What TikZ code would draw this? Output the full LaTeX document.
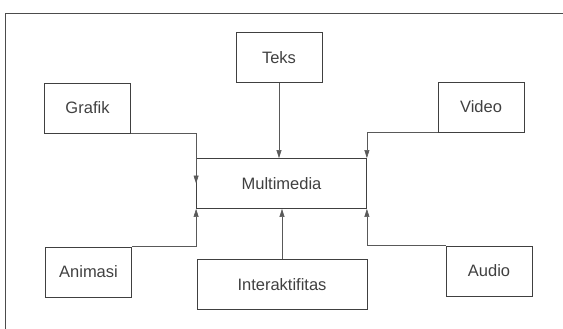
\documentclass[tikz,border=0pt]{standalone}
\usepackage{fontspec}
\setmainfont{Liberation Sans}
\usetikzlibrary{arrows.meta,positioning,calc}

\begin{document}
\begin{tikzpicture}[x=1pt,y=-1pt,>={Triangle[length=8pt,width=5pt]},
box/.style={draw=black!75,line width=0.8pt,text=black!75,
  minimum width=86pt,minimum height=50pt,inner sep=0pt,font=\fontsize{16.5}{19}\selectfont},
wide/.style={box,minimum width=170pt},
link/.style={->,draw=black!65,line width=0.6pt}]
\useasboundingbox (0,0) rectangle (563,329);
\draw[black!70,line width=0.8pt] (563,13) -- (5,13) -- (5,329);
\node[box] (teks) at (279,57.5) {Teks};
\node[box] (grafik) at (87.5,108) {Grafik};
\node[box] (video) at (481,107) {Video};
\node[wide] (mm) at (281.5,183.5) {Multimedia};
\node[box] (animasi) at (88.5,272) {Animasi};
\node[wide] (inter) at (282,284.5) {Interaktifitas};
\node[box] (audio) at (489,271) {Audio};
\draw[link] (teks.south) -- (teks.south |- mm.north);
\draw[link] (grafik.south east) -| (mm.west);
\draw[link] (video.south west) -| (mm.north east);
\draw[link] (animasi.north east) -| (mm.south west);
\draw[link] (inter.north) -- (inter.north |- mm.south);
\draw[link] (audio.north west) -| (mm.south east);
\end{tikzpicture}
\end{document}
